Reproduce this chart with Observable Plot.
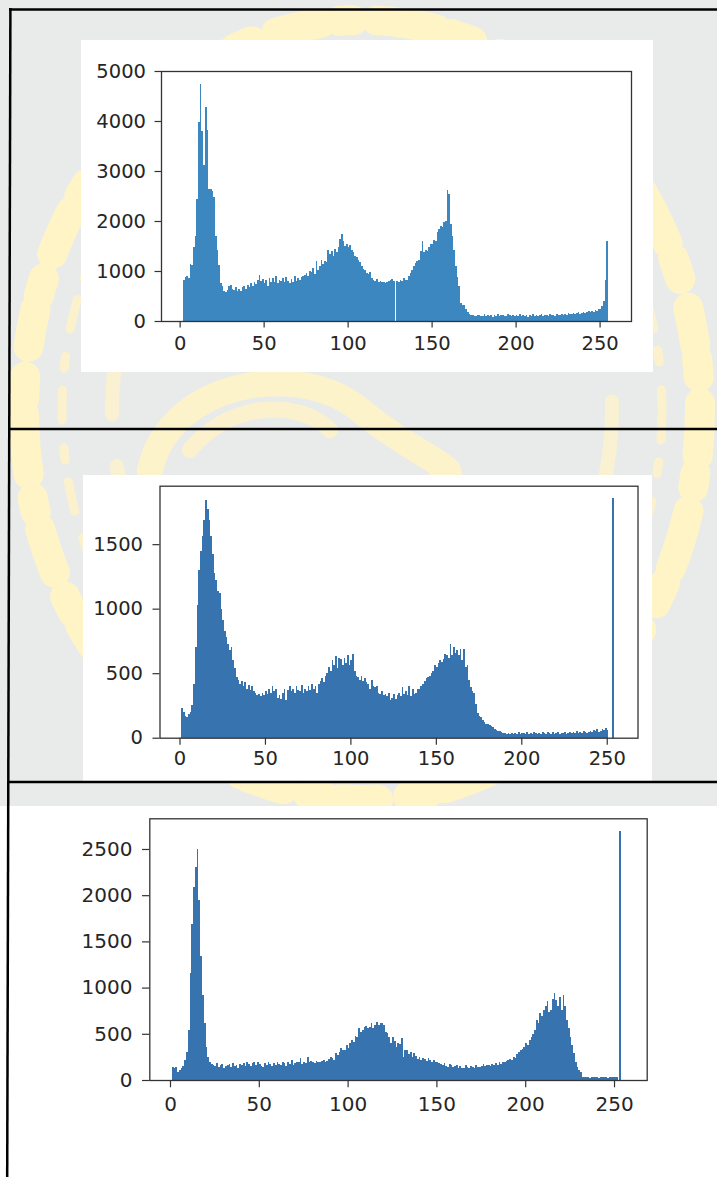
<!DOCTYPE html>
<html>
<head>
<meta charset="utf-8">
<script src="https://cdn.jsdelivr.net/npm/d3@7"></script>
<script src="https://cdn.jsdelivr.net/npm/@observablehq/plot@0.6"></script>
<style>
  html, body { margin: 0; padding: 0; background: #fff; }
  #page { position: relative; width: 717px; height: 1177px; overflow: hidden; background: #fff; }
  #page > svg.layer { position: absolute; left: 0; top: 0; }
  .panel { position: absolute; background: #fff; }
  .panel svg { display: block; overflow: visible; }
</style>
</head>
<body>
<div id="page">
  <!-- page background with the pale seal watermark -->
  <svg class="layer" width="717" height="1177">
    <rect x="0" y="0" width="717" height="806" fill="#e9ebea"/>
    <g fill="none" stroke="#fff4c6" stroke-linecap="round" stroke-linejoin="round">
      <ellipse cx="362" cy="410" rx="338" ry="390" stroke-width="30" stroke-dasharray="46 18 14 24 60 16 22 30 38 14 18 26"/>
      <ellipse cx="362" cy="410" rx="300" ry="350" stroke-width="9" stroke-dasharray="30 22 12 28" opacity="0.8"/>
      <ellipse cx="362" cy="410" rx="250" ry="292" stroke-width="14" stroke-dasharray="80 46 34 52" opacity="0.7"/>
      <path d="M 150 470 C 170 380, 300 360, 360 410 S 470 470 440 480" stroke-width="26" opacity="0.85"/>
      <path d="M 190 450 C 230 400, 300 400, 330 430" stroke-width="16" opacity="0.8"/>
    </g>
  </svg>
  <div id="panels"></div>
  <!-- table rules -->
  <svg class="layer" width="717" height="1177">
    <g stroke="#000" stroke-width="2.5" fill="none">
      <line x1="9" y1="9.4" x2="717" y2="9.4"/>
      <line x1="10.4" y1="8" x2="7.2" y2="1177"/>
      <line x1="9.5" y1="428.9" x2="717" y2="428.9"/>
      <line x1="9" y1="782" x2="717" y2="782"/>
    </g>
  </svg>
</div>
<script>
// Pixel-intensity histograms: one count per grey level, bins start at level 0.
const xTicks = [0, 50, 100, 150, 200, 250];

const countsTop = [
  0, 0, 820, 880, 900, 870, 1150, 1120, 1480, 1700,
  2450, 3980, 4750, 3800, 3120, 4290, 3820, 2650, 2640, 2600,
  2480, 1700, 1420, 1120, 760, 700, 600, 590, 630, 700,
  730, 640, 620, 680, 600, 640, 610, 680, 700, 650,
  720, 680, 760, 700, 780, 740, 820, 930, 800, 850,
  760, 820, 700, 860, 780, 870, 790, 900, 760, 830,
  800, 870, 780, 890, 800, 760, 850, 780, 900, 800,
  860, 820, 880, 900, 920, 960, 900, 1000, 980, 1060,
  940, 1200, 1020, 1100, 1220, 1150, 1200, 1180, 1420, 1350,
  1400, 1300, 1450, 1380, 1480, 1650, 1750, 1600, 1500, 1550,
  1480, 1520, 1420, 1380, 1300, 1280, 1220, 1180, 1100, 1050,
  1030, 960, 940, 980, 870, 820, 800, 840, 780, 800,
  790, 780, 760, 790, 800, 820, 840, 800, 0, 800,
  780, 820, 800, 860, 820, 830, 900, 960, 1020, 1100,
  1160, 1200, 1220, 1400, 1600, 1380, 1420, 1400, 1480, 1550,
  1540, 1620, 1600, 1780, 1850, 1900, 1880, 1990, 2000, 2620,
  2550, 1950, 1700, 1420, 1100, 890, 700, 360, 330, 320,
  250, 190, 150, 120, 130, 110, 100, 130, 120, 110,
  100, 140, 110, 120, 100, 130, 90, 120, 110, 140,
  100, 120, 130, 110, 100, 140, 120, 100, 130, 110,
  120, 100, 140, 110, 130, 100, 120, 90, 130, 110,
  140, 110, 120, 100, 130, 140, 110, 120, 130, 100,
  140, 120, 130, 110, 150, 120, 130, 140, 120, 150,
  130, 160, 140, 150, 170, 140, 160, 180, 150, 170,
  190, 170, 180, 200, 180, 210, 190, 230, 200, 250,
  240, 300, 400, 830, 1600
];

const countsMiddle = [
  0, 230, 200, 170, 160, 180, 200, 250, 420, 700,
  1030, 1300, 1450, 1560, 1690, 1840, 1770, 1690, 1560, 1420,
  1280, 1220, 1140, 1120, 1000, 910, 830, 780, 730, 680,
  705, 600, 540, 470, 445, 420, 440, 400, 430, 380,
  410, 370, 400, 360, 350, 330, 340, 320, 350, 330,
  360, 340, 380, 350, 400, 360, 380, 310, 330, 300,
  350, 380, 290, 370, 400, 360, 380, 350, 400, 370,
  360, 410, 350, 380, 360, 400, 370, 420, 380, 400,
  350, 420, 440, 460, 430, 480, 500, 550, 520, 600,
  560, 630, 540, 620, 610, 560, 620, 580, 640, 560,
  600, 650, 520, 480, 470, 450, 480, 440, 460, 430,
  420, 380, 450, 400, 390, 400, 350, 340, 360, 330,
  340, 320, 350, 290, 310, 340, 300, 330, 350, 320,
  390, 340, 360, 330, 400, 320, 380, 340, 350, 380,
  380, 400, 420, 440, 460, 470, 480, 500, 520, 560,
  550, 580, 600, 590, 610, 650, 640, 620, 730, 640,
  705, 660, 680, 640, 690, 600, 690, 550, 563, 450,
  395, 360, 345, 260, 190, 170, 163, 137, 120, 110,
  105, 98, 90, 80, 70, 60, 55, 50, 45, 40,
  35, 30, 40, 28, 35, 25, 38, 30, 42, 28,
  35, 40, 30, 45, 32, 38, 28, 42, 35, 30,
  40, 28, 45, 35, 30, 42, 38, 28, 45, 32,
  38, 45, 30, 40, 35, 48, 32, 40, 45, 35,
  42, 38, 50, 40, 45, 35, 52, 42, 40, 48,
  55, 45, 60, 50, 70, 48, 55, 65, 60, 72,
  58, 0, 0, 1860, 0
];

const countsBottom = [
  0, 145, 130, 140, 90, 110, 130, 150, 215, 305,
  540, 1160, 1690, 2090, 2300, 2500, 1950, 1340, 920, 615,
  360, 250, 190, 170, 160, 150, 180, 140, 160, 170,
  130, 150, 160, 170, 140, 180, 150, 160, 130, 170,
  160, 180, 150, 190, 170, 150, 180, 200, 160, 190,
  170, 150, 140, 180, 160, 190, 170, 150, 180, 160,
  190, 170, 160, 200, 180, 150, 190, 170, 220, 160,
  180, 200, 190, 240, 170, 200, 180, 250, 190, 210,
  200, 180, 210, 200, 190, 210, 220, 200, 210, 230,
  250, 240, 220, 290, 270, 300, 350, 330, 320, 380,
  350, 400, 430, 410, 480, 460, 560, 520, 540, 570,
  580, 560, 575, 620, 560, 600, 630, 600, 620, 613,
  600, 520, 505, 460, 397, 470, 420, 360, 400, 390,
  450, 252, 330, 325, 280, 300, 252, 290, 260, 230,
  250, 220, 240, 230, 210, 240, 215, 200, 220, 190,
  200, 180, 170, 160, 180, 150, 145, 170, 160, 140,
  150, 160, 135, 150, 130, 125, 160, 140, 130, 150,
  140, 130, 160, 145, 140, 155, 170, 150, 165, 160,
  150, 170, 160, 180, 160, 190, 170, 200, 190, 210,
  215, 230, 220, 250, 240, 280, 300, 325, 340, 360,
  400, 380, 430, 470, 500, 540, 650, 620, 720, 690,
  760, 800, 850, 740, 760, 880, 940, 865, 800, 900,
  760, 920, 800, 650, 560, 470, 380, 290, 200, 145,
  110, 90, 36, 30, 28, 32, 25, 30, 28, 35,
  30, 26, 32, 28, 34, 30, 27, 33, 29, 36,
  30, 28, 0, 2690, 0
];

const yTicksTop = [0, 1000, 2000, 3000, 4000, 5000];
const yTicksMiddle = [0, 500, 1000, 1500];
const yTicksBottom = [0, 500, 1000, 1500, 2000, 2500];

// Figure boxes on the page and their plot frames
const panels = [
  {counts: countsTop, yTicks: yTicksTop, color: "#3d87c0",
   left: 81, top: 40, width: 572, height: 332,
   margin: {top: 31, right: 22, bottom: 51, left: 80},
   xDomain: [-11.1, 268.7], yDomain: [0, 5000],
   fontSize: 19.5, tickSize: 6.5, xPad: 8.5, yPad: 9},
  {counts: countsMiddle, yTicks: yTicksMiddle, color: "#3773ae",
   left: 83, top: 475, width: 569, height: 306,
   margin: {top: 10.7, right: 14.5, bottom: 43.3, left: 76.5},
   xDomain: [-11.7, 268], yDomain: [0, 1953],
   fontSize: 19.5, tickSize: 7, xPad: 6, yPad: 10},
  {counts: countsBottom, yTicks: yTicksBottom, color: "#3773ae",
   left: 73, top: 806, width: 587, height: 340,
   margin: {top: 12.3, right: 13.3, bottom: 66, left: 76.3},
   xDomain: [-11.65, 268.4], yDomain: [0, 2832],
   fontSize: 20, tickSize: 7.3, xPad: 9.4, yPad: 10}
];

const host = document.getElementById("panels");

for (const p of panels) {
  const bins = p.counts
    .map((count, level) => ({x1: level, x2: level + 1, count}))
    .filter(d => d.count > 0);

  const chart = Plot.plot({
    width: p.width,
    height: p.height,
    marginTop: p.margin.top,
    marginRight: p.margin.right,
    marginBottom: p.margin.bottom,
    marginLeft: p.margin.left,
    style: {
      fontFamily: "DejaVu Sans",
      fontSize: p.fontSize + "px",
      color: "#262626",
      background: "#fff",
      overflow: "visible"
    },
    x: {domain: p.xDomain},
    y: {domain: p.yDomain},
    marks: [
      // crisp edges keep neighbouring bins flush, without hairline seams
      Plot.rectY(bins, {
        x1: "x1", x2: "x2", y: "count",
        fill: p.color, inset: 0, shapeRendering: "crispEdges"
      }),
      Plot.frame({stroke: "#333", strokeWidth: 1.3}),
      Plot.axisX({
        ticks: xTicks, tickSize: p.tickSize, tickPadding: p.xPad,
        tickFormat: d => String(d), label: null,
        fontSize: p.fontSize, stroke: "#333", strokeWidth: 1.2
      }),
      Plot.axisY({
        ticks: p.yTicks, tickSize: p.tickSize, tickPadding: p.yPad,
        tickFormat: d => String(d), label: null,
        fontSize: p.fontSize, stroke: "#333", strokeWidth: 1.2
      })
    ]
  });

  const box = document.createElement("div");
  box.className = "panel";
  box.style.left = p.left + "px";
  box.style.top = p.top + "px";
  box.style.width = p.width + "px";
  box.style.height = p.height + "px";
  box.appendChild(chart);
  host.appendChild(box);
}
</script>
</body>
</html>
